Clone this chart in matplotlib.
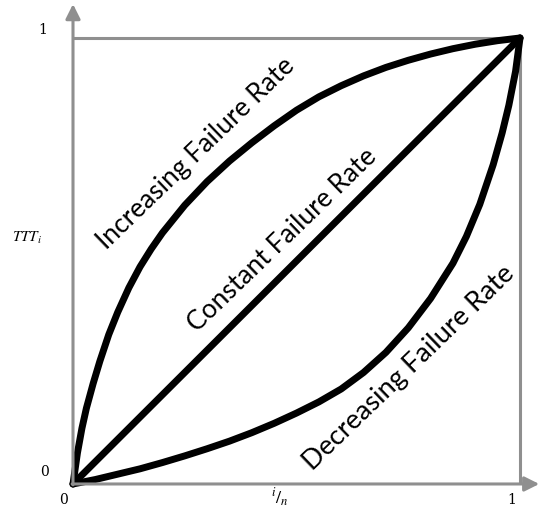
import matplotlib.pyplot as plt

# TTT plot shapes, values read as fractions of the unit square
inc_x = [0, 0.01, 0.02, 0.03, 0.045, 0.06, 0.08, 0.10, 0.125, 0.15, 0.175, 0.20,
         0.25, 0.30, 0.35, 0.40, 0.45, 0.50, 0.55, 0.60, 0.65, 0.70, 0.75, 0.80,
         0.85, 0.90, 0.95, 1.0]
inc_y = [0, 0.07, 0.125, 0.17, 0.225, 0.275, 0.335, 0.385, 0.44, 0.487, 0.527, 0.563,
         0.625, 0.678, 0.724, 0.765, 0.803, 0.838, 0.868, 0.893, 0.915, 0.934, 0.95, 0.964,
         0.976, 0.986, 0.994, 1.0]

const_x = [0, 1]
const_y = [0, 1]

dec_x = [0, 0.05, 0.10, 0.15, 0.20, 0.25, 0.30, 0.35, 0.40, 0.45, 0.50, 0.55, 0.60,
         0.65, 0.70, 0.75, 0.80, 0.85, 0.88, 0.91, 0.94, 0.96, 0.975, 0.99, 1.0]
dec_y = [0, 0.01, 0.022, 0.034, 0.048, 0.063, 0.079, 0.096, 0.115, 0.136, 0.159, 0.184,
         0.213, 0.25, 0.295, 0.35, 0.416, 0.495, 0.555, 0.627, 0.716, 0.787, 0.849, 0.925, 1.0]

labels = ['Increasing Failure Rate', 'Constant Failure Rate', 'Decreasing Failure Rate']

GRAY = '#8f8f8f'

fig = plt.figure(figsize=(5.4, 5.1), dpi=100)
ax = fig.add_axes([0, 0, 1, 1])
ax.set_xlim(-0.1633, 1.0447)
ax.set_ylim(-0.0561, 1.0874)
ax.axis('off')

# axes with arrow heads
ax.annotate('', xy=(0, 1.076), xytext=(0, -0.002),
            arrowprops=dict(arrowstyle='-|>', color=GRAY, lw=2.2, mutation_scale=22,
                            shrinkA=0, shrinkB=0))
ax.annotate('', xy=(1.043, 0), xytext=(-0.002, 0),
            arrowprops=dict(arrowstyle='-|>', color=GRAY, lw=2.2, mutation_scale=22,
                            shrinkA=0, shrinkB=0))
# top and right edges of the unit square
ax.plot([0, 1, 1], [1, 1, 0], color=GRAY, lw=2.2, solid_capstyle='butt')

# the three curves
for xs, ys in [(inc_x, inc_y), (const_x, const_y), (dec_x, dec_y)]:
    ax.plot(xs, ys, color='black', lw=5, solid_capstyle='round', solid_joinstyle='round')

# curve labels, rotated along the curves
font = dict(family='Lato', rotation=44, rotation_mode='anchor', ha='center', va='center')
ax.text((196 - 73) / 447, (485 - 154) / 446, labels[0], fontsize=19, **font)
ax.text((282 - 73) / 447, (485 - 240) / 446, labels[1], fontsize=19, **font)
ax.text((409 - 73) / 447, (485 - 368) / 446, labels[2], fontsize=19.5, **font)

# tick values and axis titles
tick = dict(family='DejaVu Serif', fontsize=10, ha='center', va='center')
ax.text(-0.067, 1.02, '1', **tick)
ax.text(-0.063, 0.029, '0', **tick)
ax.text(-0.022, -0.034, '0', **tick)
ax.text(0.982, -0.034, '1', **tick)

plt.rcParams['mathtext.fontset'] = 'stix'
ax.text(0.463, -0.028, r'$^{i}/_{n}$', fontsize=13, ha='center', va='center')
ax.text(-0.103, 0.554, r'$TTT_i$', fontsize=11, ha='center', va='center')

fig.savefig('out.png', dpi=100)
